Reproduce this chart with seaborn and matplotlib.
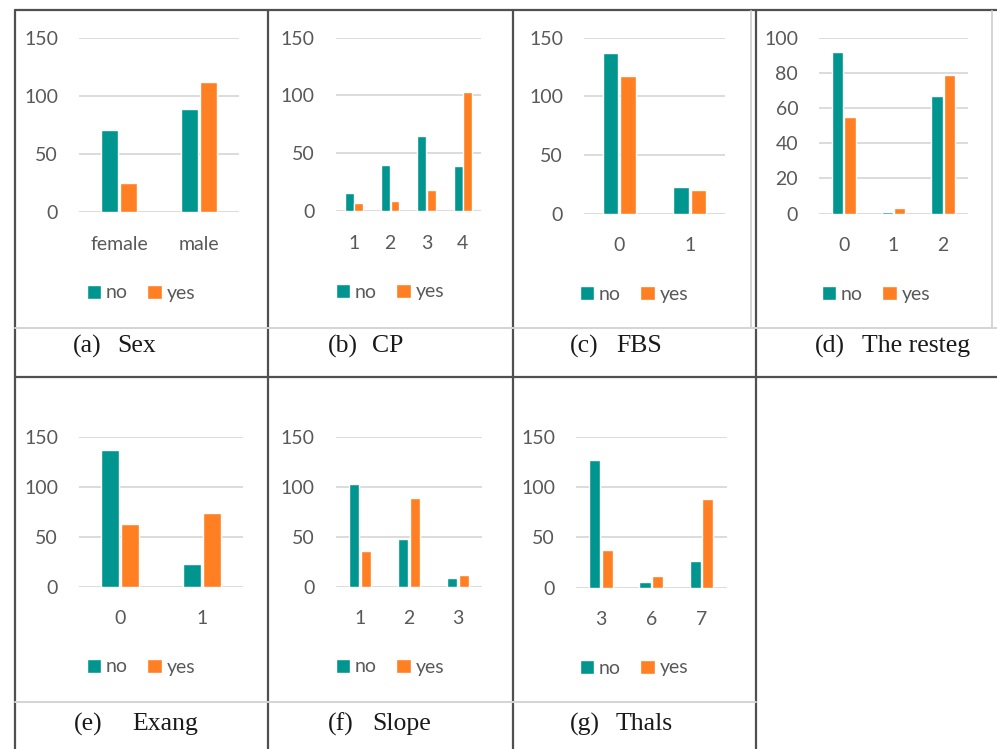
import pandas as pd
import matplotlib.pyplot as plt
import seaborn as sns
from matplotlib.lines import Line2D
from matplotlib.patches import Patch

# Conteos por variable (no / yes)
sex_cats = ['female', 'male']
sex_no = [71, 89]
sex_yes = [25, 112]

cp_cats = ['1', '2', '3', '4']
cp_no = [16, 40, 65, 39]
cp_yes = [7, 9, 18, 103]

fbs_cats = ['0', '1']
fbs_no = [137, 23]
fbs_yes = [117, 20]

restecg_cats = ['0', '1', '2']
restecg_no = [92, 1, 67]
restecg_yes = [55, 3, 79]

exang_cats = ['0', '1']
exang_no = [137, 23]
exang_yes = [63, 74]

slope_cats = ['1', '2', '3']
slope_no = [103, 48, 9]
slope_yes = [36, 89, 12]

thal_cats = ['3', '6', '7']
thal_no = [127, 6, 27]
thal_yes = [37, 12, 88]

captions = ['(a)', '(b)', '(c)', '(d)', '(e)', '(f)', '(g)']
names = ['Sex', 'CP', 'FBS', 'The resteg', 'Exang', 'Slope', 'Thals']

TEAL = '#00968F'
ORANGE = '#FF7F22'
GRID = '#D9D9D9'
TXT = '#595959'

W, H = 997, 749

sns.set_theme(style='white')
plt.rcParams['font.family'] = ['Lato', 'DejaVu Sans']

fig = plt.figure(figsize=(W / 100, H / 100), dpi=100)


def fx(x):
    return x / W


def fy(y):
    return 1 - y / H


# paneles: datos, caja del area de trazado (px), eje y, ancho, gap, leyenda y caption
panels = [
    (sex_cats, sex_no, sex_yes, (79, 239, 37.7, 212.3), 150, 50, 0.49, 0.15, 141, 293, 73, 117, 346),
    (cp_cats, cp_no, cp_yes, (335.7, 481, 37.7, 211), 150, 50, 0.53, 0.07, 390, 292, 328, 372, 346),
    (fbs_cats, fbs_no, fbs_yes, (584, 725, 37.7, 213.7), 150, 50, 0.5, 0.13, 634, 294, 570, 616, 346),
    (restecg_cats, restecg_no, restecg_yes, (819, 968, 37.7, 213.7), 100, 20, 0.5, 0.1, 876, 294, 815, 862, 346),
    (exang_cats, exang_no, exang_yes, (79, 243, 436.7, 586.7), 150, 50, 0.5, 0.12, 141, 667, 74, 132, 724),
    (slope_cats, slope_no, slope_yes, (335.7, 482.3, 436.7, 586.7), 150, 50, 0.49, 0.14, 390, 667, 328, 372, 724),
    (thal_cats, thal_no, thal_yes, (576, 726.7, 436.7, 587.7), 150, 50, 0.5, 0.11, 634, 668, 570, 616, 724),
]

handles = [Patch(facecolor=TEAL), Patch(facecolor=ORANGE)]

for i, (cats, no, yes, box, ymax, ystep, width, gap, lx, ly, c1, c2, cy) in enumerate(panels):
    x0, x1, y0, y1 = box
    ax = fig.add_axes([fx(x0), fy(y1), fx(x1) - fx(x0), (y1 - y0) / H])
    df = pd.DataFrame({
        'cat': cats + cats,
        'count': no + yes,
        'target': ['no'] * len(cats) + ['yes'] * len(cats),
    })
    sns.barplot(data=df, x='cat', y='count', hue='target', order=cats,
                hue_order=['no', 'yes'], palette=[TEAL, ORANGE],
                width=width, gap=gap, saturation=1, legend=False, ax=ax)
    ax.set_ylim(0, ymax)
    ax.set_xlim(-0.5, len(cats) - 0.5)
    ax.set_yticks(range(0, ymax + 1, ystep))
    ax.yaxis.grid(True, color=GRID, linewidth=1.3)
    ax.set_axisbelow(True)
    for s in ax.spines.values():
        s.set_visible(False)
    ax.set_xlabel('')
    ax.set_ylabel('')
    ax.tick_params(axis='y', length=0, pad=15, labelsize=14, labelcolor=TXT)
    ax.tick_params(axis='x', length=0, pad=17, labelsize=14, labelcolor=TXT)
    ax.set_facecolor('none')

    fig.legend(handles, ['no', 'yes'], loc='center', bbox_to_anchor=(fx(lx), fy(ly)),
               ncol=2, frameon=False, fontsize=14, handlelength=0.75, handleheight=0.75,
               handletextpad=0.25, columnspacing=1.0, labelcolor=TXT)

    # captions en serif
    fig.text(fx(c1), fy(cy), captions[i], family='Liberation Serif', fontsize=18.5,
             color='#1a1a1a', ha='left', va='center')
    fig.text(fx(c2), fy(cy), names[i], family='Liberation Serif', fontsize=18.5,
             color='#1a1a1a', ha='left', va='center')

# lineas de la tabla
dark = dict(color='#505050', linewidth=1.6)
light = dict(color='#D4D4D4', linewidth=1.4)
fig.add_artist(Line2D([fx(15), 1], [fy(10), fy(10)], **dark))
fig.add_artist(Line2D([fx(15), 1], [fy(377), fy(377)], **dark))
for x in [15, 268, 513, 756]:
    fig.add_artist(Line2D([fx(x), fx(x)], [fy(10), 0], **dark))
fig.add_artist(Line2D([fx(15), 1], [fy(328), fy(328)], **light))
fig.add_artist(Line2D([fx(15), fx(756)], [fy(702), fy(702)], **light))
# borde claro del area de grafico en (c) y (d)
fig.add_artist(Line2D([fx(751), fx(751)], [fy(11), fy(328)], **light))
fig.add_artist(Line2D([fx(992), fx(992)], [fy(11), fy(328)], **light))

fig.savefig('out.png', dpi=100, facecolor='white')
